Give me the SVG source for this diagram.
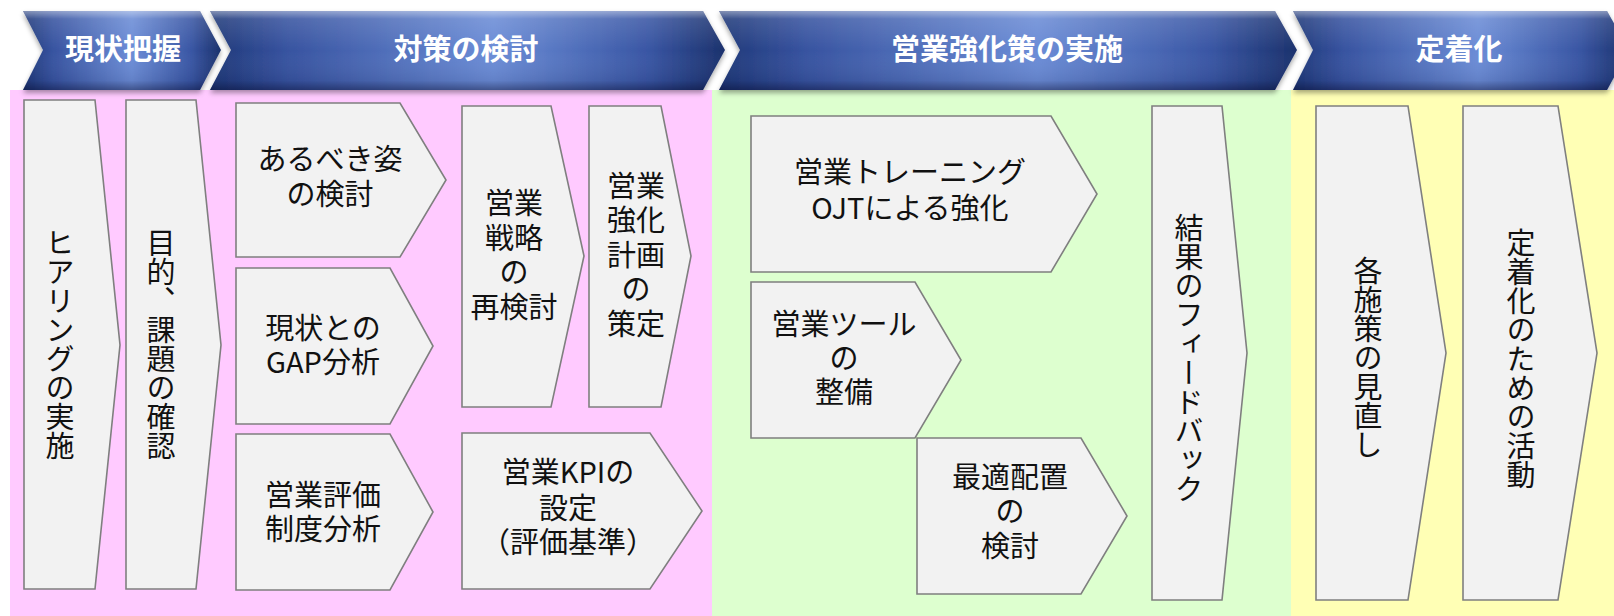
<svg xmlns="http://www.w3.org/2000/svg" width="1614" height="616" viewBox="0 0 1614 616">
<style>
.box{fill:#F2F2F2;stroke:#7F7F7F;stroke-width:1.6;stroke-linejoin:miter}
.t{font-family:"Noto Sans CJK JP","Noto Sans",sans-serif;font-size:29px;fill:#111;text-anchor:middle}
.v{font-family:"Noto Sans CJK JP","Noto Sans",sans-serif;font-size:29px;fill:#111;text-anchor:middle;writing-mode:vertical-rl}
.ht{font-family:"Noto Sans CJK JP","Noto Sans",sans-serif;font-size:29px;font-weight:700;fill:#FFFFFF;text-anchor:middle}
.hbase{fill:url(#hg);filter:url(#sh)}
.hov{fill:url(#vg)}
</style>
<defs>
<linearGradient id="hg" x1="0" y1="0" x2="1" y2="0">
<stop offset="0" stop-color="#1F3878"/>
<stop offset="0.15" stop-color="#3753A0"/>
<stop offset="0.55" stop-color="#6B8CD6"/>
<stop offset="0.85" stop-color="#3956A4"/>
<stop offset="1" stop-color="#1B316C"/>
</linearGradient>
<linearGradient id="vg" x1="0" y1="0" x2="0" y2="1">
<stop offset="0" stop-color="#FFFFFF" stop-opacity="0.45"/>
<stop offset="0.1" stop-color="#FFFFFF" stop-opacity="0.12"/>
<stop offset="0.5" stop-color="#FFFFFF" stop-opacity="0"/>
<stop offset="0.88" stop-color="#000020" stop-opacity="0.08"/>
<stop offset="1" stop-color="#000020" stop-opacity="0.4"/>
</linearGradient>
<filter id="sh" x="-5%" y="-10%" width="110%" height="130%">
<feDropShadow dx="0" dy="3" stdDeviation="2.5" flood-color="#000" flood-opacity="0.35"/>
</filter>
</defs>
<rect width="1614" height="616" fill="#FFFFFF"/>
<g id="panels">
<rect x="10" y="90" width="702" height="526" fill="#FFCAFF"/>
<rect x="712" y="90" width="579" height="526" fill="#DDFFCF"/>
<rect x="1291" y="90" width="323" height="526" fill="#FFFFB5"/>
</g>
<g id="header">
<g id="h1">
<polygon class="hbase" points="23,11 200,11 221,50 200,90 23,90 43,50"/>
<polygon class="hov" points="23,11 200,11 221,50 200,90 23,90 43,50"/>
<text class="ht" x="123" y="60">現状把握</text>
</g>
<g id="h2">
<polygon class="hbase" points="210,11 703,11 725,50 703,90 210,90 231,50"/>
<polygon class="hov" points="210,11 703,11 725,50 703,90 210,90 231,50"/>
<text class="ht" x="466" y="60">対策の検討</text>
</g>
<g id="h3">
<polygon class="hbase" points="719,11 1275,11 1297,50 1275,90 719,90 740,50"/>
<polygon class="hov" points="719,11 1275,11 1297,50 1275,90 719,90 740,50"/>
<text class="ht" x="1007" y="60">営業強化策の実施</text>
</g>
<g id="h4">
<polygon class="hbase" points="1293,11 1607,11 1629,50 1607,90 1293,90 1313,50"/>
<polygon class="hov" points="1293,11 1607,11 1629,50 1607,90 1293,90 1313,50"/>
<text class="ht" x="1459" y="60">定着化</text>
</g>
</g>
<g id="connectors"/>
<g id="nA">
<polygon class="box" points="24,100 95,100 120,345 95,589 24,589"/>
<text class="v" x="60" y="344">ヒアリングの実施</text>
</g>
<g id="nB">
<polygon class="box" points="126,100 196,100 221,345 196,589 126,589"/>
<text class="v" x="161" y="344">目的、課題の確認</text>
</g>
<g id="nC">
<polygon class="box" points="236,103 400,103 446,180 400,257 236,257"/>
<text class="t"><tspan x="330" y="170">あるべき姿</tspan><tspan x="330" y="205">の検討</tspan></text>
</g>
<g id="nD">
<polygon class="box" points="236,268 390,268 433,346 390,424 236,424"/>
<text class="t"><tspan x="323" y="339">現状との</tspan><tspan x="323" y="373">GAP分析</tspan></text>
</g>
<g id="nE">
<polygon class="box" points="236,434 390,434 433,512 390,590 236,590"/>
<text class="t"><tspan x="323" y="506">営業評価</tspan><tspan x="323" y="540">制度分析</tspan></text>
</g>
<g id="nF">
<polygon class="box" points="462,106 551,106 584,256 551,407 462,407"/>
<text class="t"><tspan x="514" y="214">営業</tspan><tspan x="514" y="249">戦略</tspan><tspan x="514" y="283">の</tspan><tspan x="514" y="318">再検討</tspan></text>
</g>
<g id="nG">
<polygon class="box" points="589,106 661,106 691,256 661,407 589,407"/>
<text class="t"><tspan x="636" y="197">営業</tspan><tspan x="636" y="231">強化</tspan><tspan x="636" y="266">計画</tspan><tspan x="636" y="300">の</tspan><tspan x="636" y="335">策定</tspan></text>
</g>
<g id="nH">
<polygon class="box" points="462,433 650,433 702,511 650,589 462,589"/>
<text class="t"><tspan x="568" y="483">営業KPIの</tspan><tspan x="568" y="519">設定</tspan><tspan x="568" y="553">（評価基準）</tspan></text>
</g>
<g id="nI">
<polygon class="box" points="751,116 1051,116 1097,194 1051,272 751,272"/>
<text class="t"><tspan x="910" y="183">営業トレーニング</tspan><tspan x="910" y="219">OJTによる強化</tspan></text>
</g>
<g id="nJ">
<polygon class="box" points="751,282 915,282 961,360 915,438 751,438"/>
<text class="t"><tspan x="844" y="335">営業ツール</tspan><tspan x="844" y="369">の</tspan><tspan x="844" y="403">整備</tspan></text>
</g>
<g id="nK">
<polygon class="box" points="917,438 1081,438 1127,516 1081,594 917,594"/>
<text class="t"><tspan x="1010" y="488">最適配置</tspan><tspan x="1010" y="522">の</tspan><tspan x="1010" y="557">検討</tspan></text>
</g>
<g id="nL">
<polygon class="box" points="1152,106 1222,106 1247,353 1222,600 1152,600"/>
<text class="v" x="1189" y="358">結果のフィードバック</text>
</g>
<g id="nM">
<polygon class="box" points="1316,106 1408,106 1446,353 1408,600 1316,600"/>
<text class="v" x="1368" y="358">各施策の見直し</text>
</g>
<g id="nN">
<polygon class="box" points="1463,106 1558,106 1597,353 1558,600 1463,600"/>
<text class="v" x="1521" y="359">定着化のための活動</text>
</g>
</svg>
